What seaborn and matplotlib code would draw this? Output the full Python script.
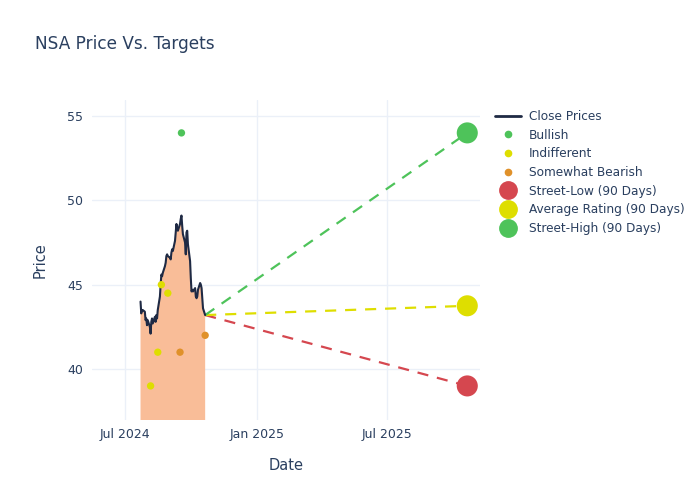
import pandas as pd
import numpy as np
import matplotlib
matplotlib.use('Agg')
import matplotlib.pyplot as plt
import seaborn as sns
import matplotlib.dates as mdates
from matplotlib.lines import Line2D

# close prices, business days 2024-07-23 .. 2024-10-21
price_dates = pd.bdate_range('2024-07-23', '2024-10-21')
close_prices = [44.0, 43.3, 43.5, 43.5, 43.4, 42.9, 43.0, 42.6, 42.9, 42.5,
                42.1, 42.8, 43.0, 42.7, 43.1, 42.8, 43.2, 43.0, 43.5, 44.3,
                45.0, 45.6, 45.5, 45.7, 46.1, 46.3, 46.7, 46.8, 46.7, 46.6,
                46.5, 46.9, 47.1, 47.0, 47.6, 48.1, 48.6, 48.3, 48.2, 48.6,
                48.9, 49.1, 48.5, 48.0, 47.5, 46.8, 48.1, 48.2, 47.4, 46.4,
                45.4, 44.6, 44.7, 44.6, 44.8, 44.3, 44.2, 44.3, 44.7, 45.1,
                45.0, 44.8, 44.2, 43.6, 43.2]

# analyst ratings
rating_dates = ['2024-09-18', '2024-08-21', '2024-08-30', '2024-08-16',
                '2024-08-06', '2024-09-16', '2024-10-21']
rating_prices = [54.0, 45.0, 44.5, 41.0, 39.0, 41.0, 42.0]
rating_kinds = ['Bullish', 'Indifferent', 'Indifferent', 'Indifferent',
                'Indifferent', 'Somewhat Bearish', 'Somewhat Bearish']

# 90 day targets
target_date = '2025-10-21'
target_names = ['Street-Low (90 Days)', 'Average Rating (90 Days)', 'Street-High (90 Days)']
target_values = [39.0, 43.75, 54.0]

GREEN = '#4EC35A'
YELLOW = '#DEDE00'
RED = '#D5474F'
ORANGE = '#E0912A'
NAVY = '#1F2A44'
TXT = '#2a3f5f'
GRID = '#EBF0F8'

kind_colors = {'Bullish': GREEN, 'Indifferent': YELLOW, 'Somewhat Bearish': ORANGE}
target_colors = [RED, YELLOW, GREEN]

sns.set_theme(style='white')
plt.rcParams['font.family'] = ['DejaVu Sans']

df_price = pd.DataFrame({'date': price_dates, 'close': close_prices})
df_rate = pd.DataFrame({'date': pd.to_datetime(rating_dates), 'price': rating_prices,
                        'kind': rating_kinds})

fig = plt.figure(figsize=(7, 5), dpi=100)
ax = fig.add_axes([0.131, 0.16, 0.555, 0.64])

ax.fill_between(df_price['date'], df_price['close'], 0, color='#F9BD98', lw=0, zorder=1)
sns.lineplot(data=df_price, x='date', y='close', color=NAVY, lw=1.5, ax=ax, zorder=3)

# dashed lines from last close to each target
last_date = df_price['date'].iloc[-1]
last_close = df_price['close'].iloc[-1]
for val, col in zip(target_values, target_colors):
    seg = pd.DataFrame({'date': [last_date, pd.Timestamp(target_date)],
                        'price': [last_close, val]})
    ax.plot(seg['date'], seg['price'], color=col, lw=1.6, ls=(0, (5, 4)), zorder=2)

sns.scatterplot(data=df_rate, x='date', y='price', hue='kind', palette=kind_colors,
                s=28, edgecolor='none', legend=False, ax=ax, zorder=4)

df_tgt = pd.DataFrame({'date': pd.to_datetime([target_date] * 3), 'price': target_values,
                       'name': target_names})
sns.scatterplot(data=df_tgt, x='date', y='price', hue='name',
                palette=dict(zip(target_names, target_colors)), s=230,
                edgecolor='none', legend=False, ax=ax, zorder=5)

ax.set_xlim(pd.Timestamp('2024-05-16'), pd.Timestamp('2025-11-08'))
ax.set_ylim(36.98, 55.95)
ax.set_yticks([40, 45, 50, 55])
ax.xaxis.set_major_locator(mdates.MonthLocator(bymonth=[1, 7]))
ax.xaxis.set_major_formatter(mdates.DateFormatter('%b %Y'))
ax.grid(True, color=GRID, lw=1)
ax.set_axisbelow(True)
for s in ax.spines.values():
    s.set_visible(False)
ax.tick_params(axis='both', length=0, labelsize=9, colors=TXT, pad=6)
ax.set_xlabel('Date', fontsize=10.5, color=TXT, labelpad=12)
ax.set_ylabel('Price', fontsize=10.5, color=TXT, labelpad=14)

fig.text(0.05, 0.912, 'NSA Price Vs. Targets', fontsize=12.2, color=TXT, va='center')

handles = [Line2D([], [], color=NAVY, lw=2, label='Close Prices')]
for k in ['Bullish', 'Indifferent', 'Somewhat Bearish']:
    handles.append(Line2D([], [], ls='none', marker='o', ms=4.5, color=kind_colors[k], label=k))
for n, c in zip(target_names, target_colors):
    handles.append(Line2D([], [], ls='none', marker='o', ms=12.5, color=c, label=n))
leg = fig.legend(handles=handles, loc='upper left', bbox_to_anchor=(0.7, 0.79),
                 frameon=False, fontsize=8.7, labelspacing=0.47, handlelength=2.2,
                 handletextpad=0.6, borderaxespad=0)
for t in leg.get_texts():
    t.set_color(TXT)

fig.savefig('out.png', dpi=100)
